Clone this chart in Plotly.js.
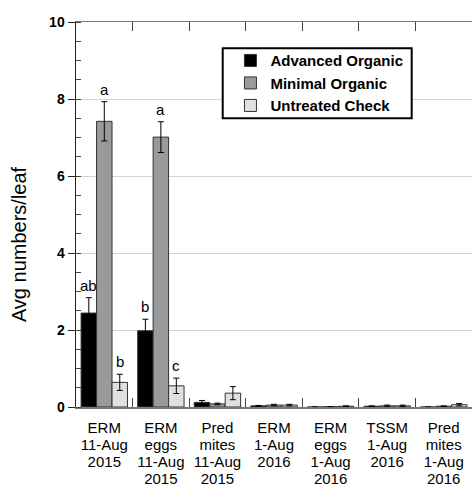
<!DOCTYPE html>
<html>
<head>
<meta charset="utf-8">
<script src="https://cdn.plot.ly/plotly-3.0.1.min.js"></script>
<style>html,body{margin:0;padding:0;background:#fff;}#chart{width:472px;height:486px;}</style>
</head>
<body>
<div id="chart"></div>
<script>
const categories = [
  "ERM<br>11-Aug<br>2015",
  "ERM<br>eggs<br>11-Aug<br>2015",
  "Pred<br>mites<br>11-Aug<br>2015",
  "ERM<br>1-Aug<br>2016",
  "ERM<br>eggs<br>1-Aug<br>2016",
  "TSSM<br>1-Aug<br>2016",
  "Pred<br>mites<br>1-Aug<br>2016"
];
const seriesNames = ["Advanced Organic", "Minimal Organic", "Untreated Check"];
const advanced = [2.44, 1.98, 0.12, 0.03, 0.0, 0.02, 0.0];
const advancedErr = [0.40, 0.30, 0.05, 0.01, 0.0, 0.01, 0.0];
const minimal = [7.42, 7.01, 0.08, 0.05, 0.005, 0.03, 0.02];
const minimalErr = [0.51, 0.40, 0.02, 0.02, 0.005, 0.02, 0.01];
const untreated = [0.64, 0.55, 0.36, 0.05, 0.02, 0.03, 0.06];
const untreatedErr = [0.21, 0.20, 0.17, 0.02, 0.01, 0.02, 0.03];
const letters = [
  {cat: 0, series: 0, text: "ab"},
  {cat: 0, series: 1, text: "a"},
  {cat: 0, series: 2, text: "b"},
  {cat: 1, series: 0, text: "b"},
  {cat: 1, series: 1, text: "a"},
  {cat: 1, series: 2, text: "c"}
];
const yTitle = "Avg numbers/leaf";

const font = "Liberation Sans, Arial, sans-serif";
const colors = ["#000000", "#9a9a9a", "#e0e0e0"];
const vals = [advanced, minimal, untreated];
const errs = [advancedErr, minimalErr, untreatedErr];

const traces = seriesNames.map((name, i) => ({
  type: "bar",
  name: name,
  x: categories,
  y: vals[i],
  marker: {color: colors[i], line: {color: "#333", width: 1}},
  error_y: {type: "data", array: errs[i], visible: true, color: "#000", thickness: 1, width: 3},
  hoverinfo: "skip"
}));

const barPx = 15.4;
const annotations = letters.map(l => ({
  x: categories[l.cat],
  y: vals[l.series][l.cat] + errs[l.series][l.cat],
  xref: "x", yref: "y",
  text: l.text,
  showarrow: false,
  yanchor: "bottom",
  yshift: 2,
  xshift: (l.series - 1) * barPx,
  font: {family: font, size: 15, color: "#000"}
}));
annotations.push({
  xref: "paper", yref: "paper",
  x: -0.144, y: 0.423,
  xanchor: "center", yanchor: "middle",
  text: yTitle, textangle: -90, showarrow: false,
  font: {family: font, size: 20, color: "#000"}
});

const layout = {
  width: 472, height: 486,
  margin: {l: 76, r: 0, t: 22, b: 79},
  paper_bgcolor: "#fff", plot_bgcolor: "#fff",
  barmode: "group", bargap: 0.18, bargroupgap: 0,
  showlegend: true,
  legend: {
    x: 0.39, y: 0.9424, xanchor: "left", yanchor: "top",
    borderwidth: 0, bgcolor: "rgba(0,0,0,0)",
    font: {family: font, size: 15, color: "#000", weight: "bold"},
    tracegroupgap: 0
  },
  shapes: [{
    type: "rect", xref: "paper", yref: "paper",
    x0: 0.3705, x1: 0.8477, y0: 0.75, y1: 0.9317,
    line: {color: "#000", width: 2}, fillcolor: "#fff", layer: "above"
  }],
  xaxis: {
    type: "category",
    showline: true, linecolor: "#777", linewidth: 1.5,
    mirror: "ticks",
    ticks: "inside", tickson: "boundaries", ticklen: 9, tickcolor: "#444", tickwidth: 1,
    ticklabelstandoff: 6,
    tickfont: {family: font, size: 15, color: "#000"},
    showgrid: false, fixedrange: true
  },
  xaxis2: {
    overlaying: "x", anchor: "y", type: "linear",
    range: [-0.5, 6.5], dtick: 0.2, tick0: -0.5,
    ticks: "inside", ticklen: 4, tickcolor: "#444", tickwidth: 1,
    mirror: "ticks", showticklabels: false, showgrid: false, showline: false, zeroline: false
  },
  yaxis: {
    range: [0, 10], dtick: 2,
    showline: true, linecolor: "#222", linewidth: 1.5,
    ticks: "outside", ticklen: 7, tickcolor: "#222",
    minor: {dtick: 0.5, ticks: "inside", ticklen: 5, tickcolor: "#444", showgrid: false},
    showgrid: true, gridcolor: "#d4d4d4", gridwidth: 1, zeroline: false,
    tickfont: {family: font, size: 14, color: "#000", weight: "bold"},
    fixedrange: true
  },
  annotations: annotations
};

Plotly.newPlot("chart", traces, layout, {displayModeBar: false, staticPlot: true}).then(gd => {
  // tighten line spacing of multi-line category labels (reference uses ~1.15 line height)
  gd.querySelectorAll(".xtick text tspan.line").forEach(t => {
    const dy = t.getAttribute("dy");
    if (dy && dy.endsWith("em")) {
      const v = parseFloat(dy);
      t.setAttribute("dy", (v * 1.15 / 1.3) + "em");
    }
  });
});
</script>
</body>
</html>
